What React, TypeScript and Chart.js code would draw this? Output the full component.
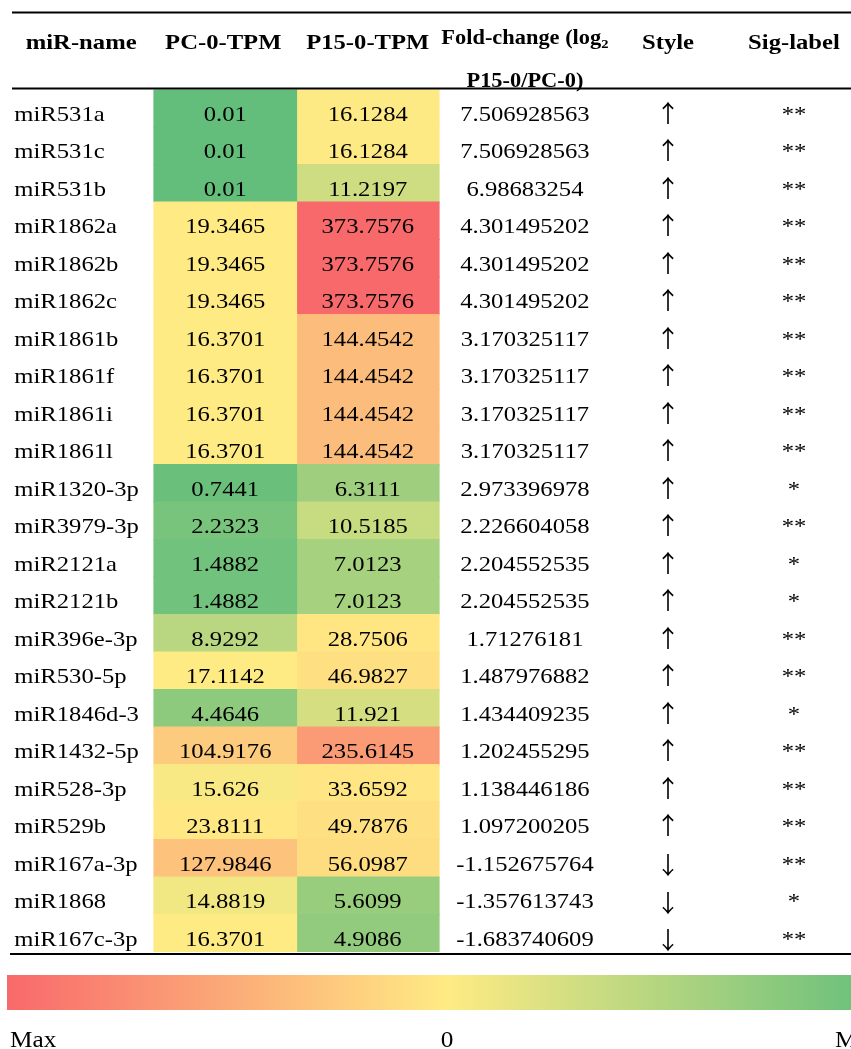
import React, { useEffect, useRef } from "react";
import { Chart, registerables } from "chart.js";

Chart.register(...registerables);

const names = [
  "miR531a", "miR531c", "miR531b", "miR1862a", "miR1862b", "miR1862c",
  "miR1861b", "miR1861f", "miR1861i", "miR1861l", "miR1320-3p", "miR3979-3p",
  "miR2121a", "miR2121b", "miR396e-3p", "miR530-5p", "miR1846d-3", "miR1432-5p",
  "miR528-3p", "miR529b", "miR167a-3p", "miR1868", "miR167c-3p",
];
const pcTPM = [
  0.01, 0.01, 0.01, 19.3465, 19.3465, 19.3465, 16.3701, 16.3701, 16.3701, 16.3701,
  0.7441, 2.2323, 1.4882, 1.4882, 8.9292, 17.1142, 4.4646, 104.9176, 15.626,
  23.8111, 127.9846, 14.8819, 16.3701,
];
const p15TPM = [
  16.1284, 16.1284, 11.2197, 373.7576, 373.7576, 373.7576, 144.4542, 144.4542,
  144.4542, 144.4542, 6.3111, 10.5185, 7.0123, 7.0123, 28.7506, 46.9827, 11.921,
  235.6145, 33.6592, 49.7876, 56.0987, 5.6099, 4.9086,
];
const foldChange = [
  "7.506928563", "7.506928563", "6.98683254", "4.301495202", "4.301495202",
  "4.301495202", "3.170325117", "3.170325117", "3.170325117", "3.170325117",
  "2.973396978", "2.226604058", "2.204552535", "2.204552535", "1.71276181",
  "1.487976882", "1.434409235", "1.202455295", "1.138446186", "1.097200205",
  "-1.152675764", "-1.357613743", "-1.683740609",
];
const styles = [
  "↑", "↑", "↑", "↑", "↑", "↑", "↑", "↑", "↑", "↑", "↑", "↑", "↑", "↑", "↑", "↑",
  "↑", "↑", "↑", "↑", "↓", "↓", "↓",
];
const sigLabels = [
  "**", "**", "**", "**", "**", "**", "**", "**", "**", "**", "*", "**", "*", "*",
  "**", "**", "*", "**", "**", "**", "**", "*", "**",
];
const headers = ["miR-name", "PC-0-TPM", "P15-0-TPM", "Style", "Sig-label"];
const fcHeaderLine1 = "Fold-change (log";
const fcHeaderSub = "2";
const fcHeaderLine2 = "P15-0/PC-0)";
const scaleLabels = ["Max", "0", "Min"];

const RED = [248, 105, 107];
const YELLOW = [255, 235, 132];
const GREEN = [99, 190, 123];

const allVals = [...pcTPM, ...p15TPM].slice().sort((a, b) => a - b);
const vMin = allVals[0];
const vMax = allVals[allVals.length - 1];
const vMid = (() => {
  const r = 0.5 * (allVals.length - 1);
  const lo = Math.floor(r);
  const hi = Math.ceil(r);
  return allVals[lo] + (allVals[hi] - allVals[lo]) * (r - lo);
})();

function mix(a: number[], b: number[], t: number) {
  const c = a.map((v, i) => Math.round(v + (b[i] - v) * t));
  return `rgb(${c[0]},${c[1]},${c[2]})`;
}
function colorFor(v: number) {
  if (v <= vMid) {
    const t = (v - vMin) / (vMid - vMin || 1);
    return mix(GREEN, YELLOW, Math.max(0, Math.min(1, t)));
  }
  const t = (v - vMid) / (vMax - vMid || 1);
  return mix(YELLOW, RED, Math.max(0, Math.min(1, t)));
}

const SERIF = '"Liberation Serif", "Times New Roman", serif';
const ARROWFONT = '"Noto Sans CJK SC", "DejaVu Sans", sans-serif';
const SX = 1.12;

function txt(
  ctx: CanvasRenderingContext2D,
  text: string,
  x: number,
  y: number,
  font: string,
  align: CanvasTextAlign,
  sx = SX
) {
  ctx.save();
  ctx.font = font;
  ctx.textAlign = align;
  ctx.textBaseline = "alphabetic";
  ctx.fillStyle = "#000";
  ctx.translate(x, y);
  ctx.scale(sx, 1);
  ctx.fillText(text, 0, 0);
  ctx.restore();
}

const tablePlugin = {
  id: "tableText",
  afterDraw(chart: any) {
    const ctx: CanvasRenderingContext2D = chart.ctx;
    const xs = chart.scales.x;
    const ys = chart.scales.y;
    const area = chart.chartArea;
    const rowH = ys.getPixelForValue(1) - ys.getPixelForValue(0);
    const W = chart.width;

    const xName = xs.getPixelForValue(0.02);
    const xPC = xs.getPixelForValue(1.5);
    const xP15 = xs.getPixelForValue(2.5);
    const xFC = xs.getPixelForValue(3.603);
    const xStyle = xs.getPixelForValue(4.607);
    const xSig = xs.getPixelForValue(5.491);

    const body = `22px ${SERIF}`;
    names.forEach((n, i) => {
      const yc = ys.getPixelForValue(i);
      const base = yc + rowH / 2 - 6.5;
      txt(ctx, n, xName, base, body, "left");
      txt(ctx, String(pcTPM[i]), xPC, base, body, "center");
      txt(ctx, String(p15TPM[i]), xP15, base, body, "center");
      txt(ctx, foldChange[i], xFC, base, body, "center");
      const up = styles[i] === "↑";
      txt(ctx, styles[i], xStyle, base + (up ? 1 : 3.5), `24px ${ARROWFONT}`, "center", 1);
      txt(ctx, sigLabels[i], xSig, base, body, "center");
    });

    // header
    const hb = `bold 22px ${SERIF}`;
    const hy = area.top - 41;
    txt(ctx, headers[0], xs.getPixelForValue(0.1), hy, hb, "left");
    txt(ctx, headers[1], xPC - 2, hy, hb, "center");
    txt(ctx, headers[2], xP15, hy, hb, "center");
    txt(ctx, headers[3], xStyle, hy, hb, "center");
    txt(ctx, headers[4], xSig, hy, hb, "center");

    const fb = `bold 20px ${SERIF}`;
    const fs = `bold 13px ${SERIF}`;
    ctx.save();
    ctx.font = fb;
    const w1 = ctx.measureText(fcHeaderLine1).width * SX;
    ctx.font = fs;
    const w2 = ctx.measureText(fcHeaderSub).width * SX;
    ctx.restore();
    const startX = xFC - (w1 + w2) / 2;
    txt(ctx, fcHeaderLine1, startX, area.top - 46, fb, "left");
    txt(ctx, fcHeaderSub, startX + w1, area.top - 42, fs, "left");
    txt(ctx, fcHeaderLine2, xFC, area.top - 2.5, fb, "center");

    // rules
    ctx.save();
    ctx.fillStyle = "#000";
    ctx.fillRect(12, area.top - 78, W - 12, 2);
    ctx.fillRect(12, area.top - 2, W - 12, 2);
    ctx.fillRect(10, area.bottom + 1, W - 10, 2);
    ctx.restore();

    // colour scale legend
    const gx0 = 7;
    const gx1 = 887;
    const gy = area.bottom + 23;
    const gh = 35;
    ctx.save();
    const g = ctx.createLinearGradient(gx0, 0, gx1, 0);
    g.addColorStop(0, mix(RED, RED, 0));
    g.addColorStop(0.5, mix(YELLOW, YELLOW, 0));
    g.addColorStop(1, mix(GREEN, GREEN, 0));
    ctx.fillStyle = g;
    ctx.fillRect(gx0, gy, gx1 - gx0, gh);
    ctx.restore();
    const lb = `23px ${SERIF}`;
    const ly = gy + gh + 37;
    txt(ctx, scaleLabels[0], 10, ly, lb, "left", 1.1);
    txt(ctx, scaleLabels[1], (gx0 + gx1) / 2, ly, lb, "center", 1.1);
    txt(ctx, scaleLabels[2], 835, ly, lb, "left", 1.1);
  },
};

export default function App() {
  const ref = useRef<HTMLCanvasElement | null>(null);
  useEffect(() => {
    document.body.style.margin = "0";
    const canvas = ref.current!;
    const chart = new Chart(canvas, {
      type: "bar",
      data: {
        labels: names,
        datasets: [
          {
            label: "PC-0-TPM",
            data: pcTPM.map(() => [1, 2]) as any,
            backgroundColor: pcTPM.map(colorFor),
            borderWidth: 0,
            barPercentage: 1,
            categoryPercentage: 1,
            grouped: false,
            inflateAmount: 0.6,
          } as any,
          {
            label: "P15-0-TPM",
            data: p15TPM.map(() => [2, 3]) as any,
            backgroundColor: p15TPM.map(colorFor),
            borderWidth: 0,
            barPercentage: 1,
            categoryPercentage: 1,
            grouped: false,
            inflateAmount: 0.6,
          } as any,
        ],
      },
      options: {
        indexAxis: "y",
        responsive: false,
        animation: false,
        devicePixelRatio: 1,
        layout: { padding: { top: 89.5, bottom: 97, left: 0, right: 0 } },
        plugins: { legend: { display: false }, tooltip: { enabled: false } },
        scales: {
          x: { type: "linear", min: -0.0807, max: 5.8912, display: false },
          y: { type: "category", display: false, offset: true },
        },
      },
      plugins: [tablePlugin],
    });
    return () => chart.destroy();
  }, []);
  return (
    <canvas
      ref={ref}
      width={851}
      height={1049}
      style={{ display: "block", width: 851, height: 1049 }}
    />
  );
}
